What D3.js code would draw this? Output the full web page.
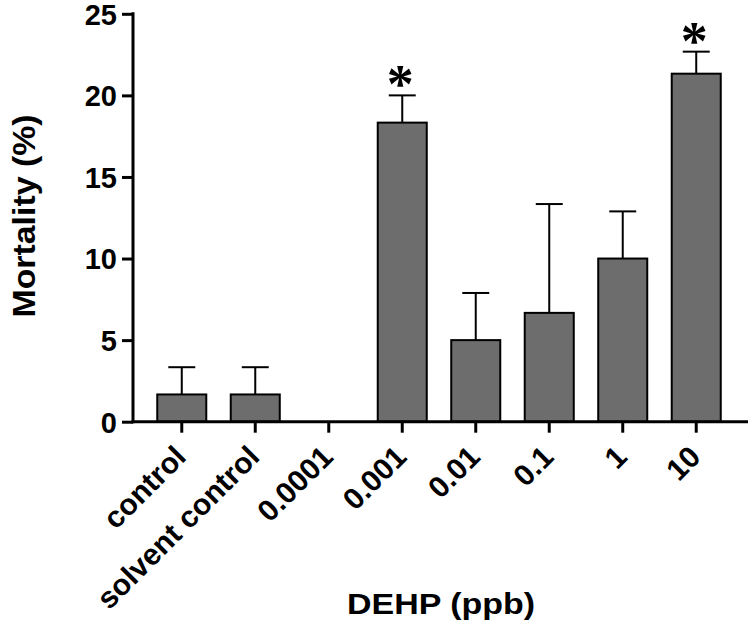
<!DOCTYPE html>
<html>
<head>
<meta charset="utf-8">
<script src="https://cdn.jsdelivr.net/npm/d3@7"></script>
<style>
  html, body { margin: 0; padding: 0; background: #fff; }
  svg { display: block; }
</style>
</head>
<body>
<svg id="chart" width="750" height="622"></svg>
<script>
const categories = ["control", "solvent control", "0.0001", "0.001", "0.01", "0.1", "1", "10"];
const means = [1.67, 1.67, 0, 18.33, 5.0, 6.67, 10.0, 21.33];
const errors = [1.67, 1.67, 0, 1.67, 2.89, 6.67, 2.89, 1.35];
const significance = ["", "", "", "*", "", "", "", "*"];
const yTicks = [0, 5, 10, 15, 20, 25];
const yTitle = "Mortality (%)";
const xTitle = "DEHP (ppb)";

const svg = d3.select("#chart");
const font = "'Liberation Sans', Arial, sans-serif";

const x = d3.scaleBand().domain(categories).range([133, 745]).paddingInner(0.333).paddingOuter(0.33);
const y = d3.scaleLinear().domain([0, 25]).range([421.7, 13.8]);

const data = categories.map((c, i) => ({ c, m: means[i], e: errors[i], s: significance[i] }));

// bars
svg.append("g").selectAll("rect").data(data).join("rect")
  .attr("x", d => x(d.c))
  .attr("y", d => y(d.m))
  .attr("width", x.bandwidth())
  .attr("height", d => y(0) - y(d.m))
  .attr("fill", "#6d6d6d")
  .attr("stroke", "#000")
  .attr("stroke-width", 2);

// error bars
const eb = svg.append("g").attr("stroke", "#000").attr("stroke-width", 2);
const capW = x.bandwidth() * 0.55;
data.filter(d => d.e > 0).forEach(d => {
  const cx = x(d.c) + x.bandwidth() / 2;
  eb.append("line").attr("x1", cx).attr("x2", cx).attr("y1", y(d.m)).attr("y2", y(d.m + d.e));
  eb.append("line").attr("x1", cx - capW / 2).attr("x2", cx + capW / 2).attr("y1", y(d.m + d.e)).attr("y2", y(d.m + d.e));
});

// significance
svg.append("g").selectAll("text").data(data.filter(d => d.s)).join("text")
  .attr("x", d => x(d.c) + x.bandwidth() / 2 - 2)
  .attr("y", d => y(d.m + d.e) + 7)
  .attr("text-anchor", "middle")
  .attr("font-family", "'Liberation Serif', 'Times New Roman', serif")
  .attr("font-weight", "bold")
  .attr("font-size", 54)
  .text(d => d.s);

// y axis
const yAxis = svg.append("g").attr("transform", "translate(133,0)")
  .call(d3.axisLeft(y).tickValues(yTicks).tickSize(11).tickPadding(5).tickSizeOuter(0));
yAxis.select(".domain").attr("stroke-width", 3).attr("d", `M0,${y(25) - 1.5}V${y(0) + 1.5}`);
yAxis.selectAll(".tick line").attr("stroke-width", 3);
yAxis.selectAll(".tick text")
  .attr("font-family", font).attr("font-weight", "bold").attr("font-size", 29).attr("fill", "#000")
  .attr("dy", "0.36em");

// x axis
const xAxis = svg.append("g").attr("transform", `translate(0,${y(0)})`)
  .call(d3.axisBottom(x).tickSize(11).tickSizeOuter(0));
xAxis.select(".domain").attr("stroke-width", 3).attr("d", "M131.5,0H748");
xAxis.selectAll(".tick line").attr("stroke-width", 3);
xAxis.selectAll(".tick text")
  .attr("font-family", font).attr("font-weight", "bold").attr("font-size", 30).attr("fill", "#000")
  .attr("text-anchor", "end")
  .attr("dy", null)
  .attr("transform", "translate(6,37) rotate(-45)")
  .attr("y", 0).attr("x", 0);

// titles
svg.append("text")
  .attr("transform", "translate(35,216) rotate(-90)")
  .attr("text-anchor", "middle")
  .attr("font-family", font).attr("font-weight", "bold").attr("font-size", 31)
  .attr("textLength", 203).attr("lengthAdjust", "spacingAndGlyphs")
  .text(yTitle);

svg.append("text")
  .attr("x", 441).attr("y", 614)
  .attr("text-anchor", "middle")
  .attr("font-family", font).attr("font-weight", "bold").attr("font-size", 30)
  .attr("textLength", 188).attr("lengthAdjust", "spacingAndGlyphs")
  .text(xTitle);
</script>
</body>
</html>
